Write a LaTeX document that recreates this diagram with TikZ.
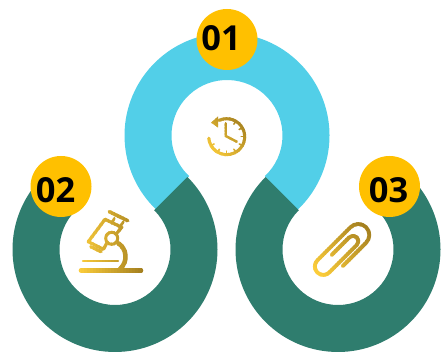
\documentclass[tikz,border=0pt]{standalone}
\usepackage{fontspec}
\setmainfont{Open Sans}
\definecolor{ringblue}{HTML}{52CFE8}
\definecolor{ringteal}{HTML}{2F7D6E}
\definecolor{badgegold}{HTML}{FFC000}
\definecolor{iconlight}{HTML}{FFD03C}
\definecolor{icondark}{HTML}{A07C1E}
\tikzset{
  badge/.style={circle,fill=badgegold,minimum size=61*0.025cm,inner sep=0pt},
  number/.style={inner sep=0pt,font=\fontsize{24.5}{24.5}\selectfont\bfseries},
  iconline/.style={draw=icongold,line cap=round,line join=round}
}
\newcommand{\goldicon}[5]{
\foreach \k in {0,...,23}{
  \begin{scope}
  \pgfmathsetmacro\tint{100-\k*100/23}
  \colorlet{icongold}{iconlight!\tint!icondark}
  \clip[rotate around={#4:(#1,#2)}] ({#1-#3+\k*#3/12},{#2-#3}) rectangle ++({#3/12+1},{2*#3});
  #5
  \end{scope}
}}
\newcommand{\microscopeicon}{
\draw[iconline,line width=4.5*0.025cm] (81,81.5) -- (141,81.5);
\draw[iconline,line width=2.5*0.025cm] (83,91) -- (118,91);
\draw[iconline,line width=4.5*0.025cm] (118.3,108.7) .. controls (126.7,103.7) and (128.3,90.3) .. (120,83);
\draw[iconline,line width=3*0.025cm] (111.7,113.7) circle[radius=6];
\draw[iconline,line width=3.5*0.025cm] (109.3,140.3) -- (127.7,131.3);
\draw[iconline,line width=2.5*0.025cm] (114.3,133.7) -- (111.7,128.7);
\draw[iconline,line width=2.5*0.025cm] (123.3,130.3) -- (119.3,123.7);
\draw[iconline,line width=3.2*0.025cm] (117.3,119.3) -- (121.7,124.7) -- (105,132.7) -- (88.3,110.3) -- (103.3,102.7) -- (106.7,108.7);
\draw[iconline,line width=3.2*0.025cm] (90.7,105.3) -- (101,100.3);
}
\newcommand{\clockicon}{
\draw[iconline,line width=3*0.025cm] (226.7,215.3) ++(115:18) arc[start angle=115,end angle=-175,radius=18];
\fill[icongold] (211,229.3) -- (218,235.5) -- (218,224.5) -- cycle;
\draw[iconline,line width=2.4*0.025cm] (225.7,228.7) -- (225.7,216) -- (236.7,210.3);
\foreach \a in {60,30,0,-30,-60,-90,-120,-150}
  \draw[iconline,line width=1.5*0.025cm] (226.7,215.3) ++(\a:14.5) -- ++(\a:2.5);
}
\newcommand{\clipicon}{
\begin{scope}[shift={(358.3,117)},rotate=45]
\draw[iconline,line width=3.8*0.025cm] (-33,-11) -- (0,-11) arc[start angle=-90,end angle=90,radius=11] -- (-47,11) arc[start angle=90,end angle=270,radius=8.5] -- (-8,-6) arc[start angle=-90,end angle=90,radius=5.35] -- (-33,4.7);
\end{scope}
}
\begin{document}
\begin{tikzpicture}[x=0.025cm,y=0.025cm]
\useasboundingbox (0,0) rectangle (444,352);
\coordinate (ringtop) at (227,216.5);
\coordinate (ringleft) at (115,102.5);
\coordinate (ringright) at (338,102.5);

\fill[ringblue] ([shift={(227:102.5)}]ringtop) arc[start angle=227,end angle=-47,radius=102.5] -- ([shift={(-47:55.5)}]ringtop) arc[start angle=-47,end angle=227,radius=55.5] -- cycle;
\fill[ringteal] ([shift={(45:102.5)}]ringleft) arc[start angle=45,end angle=-225,radius=102.5] -- ([shift={(135:55.5)}]ringleft) arc[start angle=135,end angle=405,radius=55.5] -- cycle;
\fill[ringteal] ([shift={(135:102.5)}]ringright) arc[start angle=135,end angle=405,radius=102.5] -- ([shift={(45:55.5)}]ringright) arc[start angle=45,end angle=-225,radius=55.5] -- cycle;

\goldicon{111}{111}{36}{0}{\microscopeicon}
\goldicon{227}{215}{26}{45}{\clockicon}
\goldicon{343}{102}{38}{45}{\clipicon}

\node[badge] (badgeone) at (227,312.5) {};
\node[badge] (badgetwo) at (61,165.5) {};
\node[badge] (badgethree) at (389.5,165.5) {};
\node[number] (numberone) at (221,313.5) {01};
\node[number] (numbertwo) at (55.5,162) {02};
\node[number] (numberthree) at (388.5,162) {03};
\end{tikzpicture}
\end{document}
